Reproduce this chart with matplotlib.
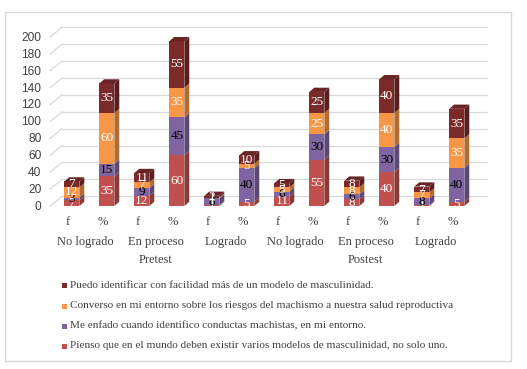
import matplotlib
matplotlib.use("Agg")
import matplotlib.pyplot as plt
from matplotlib.patches import Polygon, Rectangle
import matplotlib.colors as mcolors
import numpy as np

# ---- data ----
bar_labels = ["f", "%", "f", "%", "f", "%", "f", "%", "f", "%", "f", "%"]
level_labels = ["No logrado", "En proceso", "Logrado", "No logrado", "En proceso", "Logrado"]
phase_labels = ["Pretest", "Postest"]
series_names = [
    "Pienso que en el mundo deben existir varios modelos de masculinidad, no solo uno.",
    "Me enfado cuando identifico conductas machistas, en mi entorno.",
    "Converso en mi entorno sobre los riesgos del machismo a nuestra salud reproductiva",
    "Puedo identificar con facilidad más de un modelo de masculinidad.",
]
s_pienso = [7, 35, 12, 60, 1, 5, 11, 55, 8, 40, 1, 5]
s_enfado = [3, 15, 9, 45, 8, 40, 6, 30, 6, 30, 8, 40]
s_converso = [12, 60, 7, 35, 1, 5, 5, 25, 8, 40, 7, 35]
s_puedo = [7, 35, 11, 55, 2, 10, 5, 25, 8, 40, 7, 35]
yticks = [0, 20, 40, 60, 80, 100, 120, 140, 160, 180, 200]

series = [s_pienso, s_enfado, s_converso, s_puedo]
colors = ["#C0504D", "#8064A2", "#F79646", "#7A2B29"]
label_colors = ["white", "black", "white", "white"]

SERIF = ["Liberation Serif", "DejaVu Serif"]
SANS = ["Liberation Sans", "DejaVu Sans"]

W, H = 527, 369
fig = plt.figure(figsize=(W / 100, H / 100), dpi=100)

# outer border
fig.patches.append(Rectangle((5 / W, 1 - 361 / H), (511 - 5) / W, (361 - 12) / H,
                             transform=fig.transFigure, fill=False,
                             edgecolor="#D9D9D9", linewidth=1))

# axes: x data -> px = 68 + 35*x ; y data -> px = 206 - 0.845*y
left_px, right_px = 33, 488
ylo, yhi = -5, 215
py = 0.845
bot_px = 206 + (-ylo) * py
top_px = 206 - yhi * py
ax = fig.add_axes([left_px / W, 1 - bot_px / H, (right_px - left_px) / W, (bot_px - top_px) / H])
ax.set_xlim(-1, 12)
ax.set_ylim(ylo, yhi)
ax.axis("off")

# gridlines on back wall (offset)
gx0, gx1 = -0.17, 11.98
gdy = 11.5
for v in yticks:
    ax.plot([gx0, gx1], [v + gdy, v + gdy], color="#D9D9D9", lw=0.9, zorder=1)
    ax.plot([-0.51, gx0], [v, v + gdy], color="#D9D9D9", lw=0.9, zorder=1)
    ax.text(-0.76, v - 1, str(v), ha="right", va="center", fontsize=8.6,
            family=SANS, color="#404040")


def shade(c, f):
    r, g, b = mcolors.to_rgb(c)
    return (r * f, g * f, b * f)


w = 0.43
dx = 0.14
dy = 5.0
shift = 0.11
n = len(bar_labels)
for i in range(n):
    c = i + shift
    base = 0.0
    total = sum(s[i] for s in series)
    for k, s in enumerate(series):
        v = s[i]
        y0, y1 = base, base + v
        # front
        ax.add_patch(Rectangle((c - w / 2, y0), w, v, facecolor=colors[k],
                               edgecolor="none", zorder=3))
        # side
        ax.add_patch(Polygon([(c + w / 2, y0), (c + w / 2 + dx, y0 + dy),
                              (c + w / 2 + dx, y1 + dy), (c + w / 2, y1)],
                             closed=True, facecolor=shade(colors[k], 0.72),
                             edgecolor="none", zorder=3))
        base = y1
    # top face
    ax.add_patch(Polygon([(c - w / 2, total), (c - w / 2 + dx, total + dy),
                          (c + w / 2 + dx, total + dy), (c + w / 2, total)],
                         closed=True, facecolor=shade(colors[3], 0.85),
                         edgecolor="none", zorder=3))
    # labels
    base = 0.0
    for k, s in enumerate(series):
        v = s[i]
        ax.text(c, base + v / 2, str(v), ha="center", va="center",
                fontsize=9.5, family=SERIF, color=label_colors[k], zorder=5)
        base += v

# category labels
for i, lab in enumerate(bar_labels):
    ax.text(i, -19, lab, ha="center", va="center", fontsize=9,
            family=SERIF, color="#404040", clip_on=False)
for j, lab in enumerate(level_labels):
    ax.text(2 * j + 0.5, -42.5, lab, ha="center", va="center", fontsize=9,
            family=SERIF, color="#404040", clip_on=False)
for j, lab in enumerate(phase_labels):
    ax.text(6 * j + 2.5, -64, lab, ha="center", va="center", fontsize=9,
            family=SERIF, color="#404040", clip_on=False)

# legend (manual, reversed order)
leg_rows = [285, 306, 326, 346]
for r, k in enumerate([3, 2, 1, 0]):
    ypx = leg_rows[r]
    fig.patches.append(Rectangle((62 / W, 1 - (ypx + 2.5) / H), 5 / W, 5 / H,
                                 transform=fig.transFigure,
                                 facecolor=colors[k], edgecolor="none"))
    fig.text(70 / W, 1 - ypx / H, series_names[k], ha="left", va="center",
             fontsize=8.1, family=SERIF, color="#404040")

fig.savefig("out.png", dpi=100)
